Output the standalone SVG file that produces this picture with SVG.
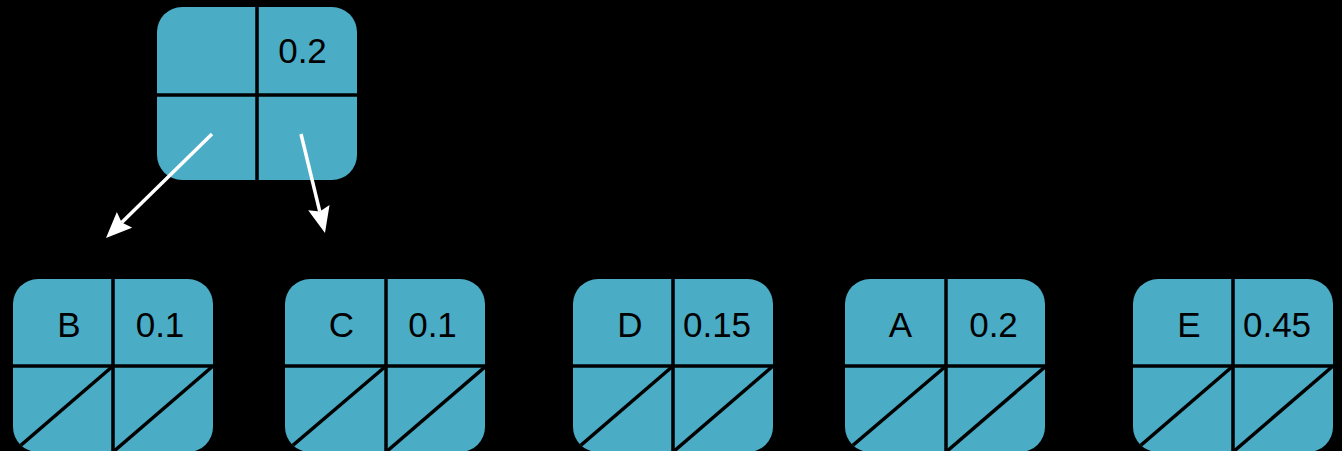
<svg xmlns="http://www.w3.org/2000/svg" width="1342" height="451" viewBox="0 0 1342 451">
<style>
.bg{fill:#4BACC6}
.ln{stroke:#000;stroke-width:3.5;fill:none}
.t{font-family:"Liberation Sans",Arial,sans-serif;font-size:35px;fill:#000;text-anchor:middle}
.ar{stroke:#fff;stroke-width:3.5;fill:none}
</style>
<defs>
<clipPath id="nc"><rect x="0" y="0" width="200" height="173" rx="25" ry="25"/></clipPath>
<marker id="ah" markerWidth="28" markerHeight="24" refX="4" refY="11" orient="auto" markerUnits="userSpaceOnUse">
<path d="M0,0 L26,11 L0,22 L4,11 Z" fill="#fff"/>
</marker>
</defs>
<rect x="0" y="0" width="1342" height="451" fill="#000"/>
<g id="root" transform="translate(157,7)">
<g clip-path="url(#nc)">
<rect class="bg" x="0" y="0" width="200" height="173"/>
<line class="ln" x1="100" y1="0" x2="100" y2="173"/>
<line class="ln" x1="0" y1="88" x2="200" y2="88"/>
</g>
<text class="t" x="145.5" y="56">0.2</text>
</g>
<g id="nodeB" transform="translate(13,279)">
<g clip-path="url(#nc)">
<rect class="bg" x="0" y="0" width="200" height="173"/>
<line class="ln" x1="100" y1="0" x2="100" y2="173"/>
<line class="ln" x1="0" y1="87" x2="200" y2="87"/>
<line class="ln" x1="100" y1="87" x2="0" y2="173"/>
<line class="ln" x1="200" y1="87" x2="100" y2="173"/>
</g>
<text class="t" x="56" y="58">B</text>
<text class="t" x="147" y="58">0.1</text>
</g>
<g id="nodeC" transform="translate(285,279)">
<g clip-path="url(#nc)">
<rect class="bg" x="0" y="0" width="201" height="173"/>
<line class="ln" x1="101" y1="0" x2="101" y2="173"/>
<line class="ln" x1="0" y1="87" x2="201" y2="87"/>
<line class="ln" x1="101" y1="87" x2="0" y2="173"/>
<line class="ln" x1="201" y1="87" x2="101" y2="173"/>
</g>
<text class="t" x="56.5" y="58">C</text>
<text class="t" x="147.5" y="58">0.1</text>
</g>
<g id="nodeD" transform="translate(573,279)">
<g clip-path="url(#nc)">
<rect class="bg" x="0" y="0" width="200" height="173"/>
<line class="ln" x1="100" y1="0" x2="100" y2="173"/>
<line class="ln" x1="0" y1="87" x2="200" y2="87"/>
<line class="ln" x1="100" y1="87" x2="0" y2="173"/>
<line class="ln" x1="200" y1="87" x2="100" y2="173"/>
</g>
<text class="t" x="57" y="58">D</text>
<text class="t" x="144" y="58">0.15</text>
</g>
<g id="nodeA" transform="translate(845,279)">
<g clip-path="url(#nc)">
<rect class="bg" x="0" y="0" width="201" height="173"/>
<line class="ln" x1="101" y1="0" x2="101" y2="173"/>
<line class="ln" x1="0" y1="87" x2="201" y2="87"/>
<line class="ln" x1="101" y1="87" x2="0" y2="173"/>
<line class="ln" x1="201" y1="87" x2="101" y2="173"/>
</g>
<text class="t" x="55.5" y="58">A</text>
<text class="t" x="148.5" y="58">0.2</text>
</g>
<g id="nodeE" transform="translate(1133,279)">
<g clip-path="url(#nc)">
<rect class="bg" x="0" y="0" width="200" height="173"/>
<line class="ln" x1="100" y1="0" x2="100" y2="173"/>
<line class="ln" x1="0" y1="87" x2="200" y2="87"/>
<line class="ln" x1="100" y1="87" x2="0" y2="173"/>
<line class="ln" x1="200" y1="87" x2="100" y2="173"/>
</g>
<text class="t" x="56" y="58">E</text>
<text class="t" x="144" y="58">0.45</text>
</g>
<g id="connectors">
<line class="ar" x1="212" y1="134" x2="121.7" y2="222.6" marker-end="url(#ah)"/>
<line class="ar" x1="301" y1="134" x2="319.8" y2="211.6" marker-end="url(#ah)"/>
</g>
</svg>
